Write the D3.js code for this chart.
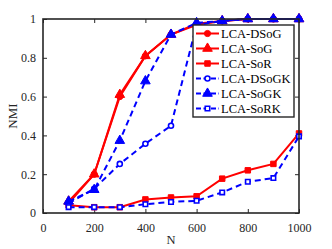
<!DOCTYPE html>
<html>
<head>
<meta charset="utf-8">
<script src="https://cdn.jsdelivr.net/npm/d3@7"></script>
<style>
  body { margin: 0; background: #fff; }
  text { font-family: "Liberation Serif", "Times New Roman", serif; fill: #262626; }
</style>
</head>
<body>
<div id="chart"></div>
<script>
// data
var nValues = [100, 200, 300, 400, 500, 600, 700, 800, 900, 1000];
var dsog   = [0.05, 0.20, 0.60, 0.81, 0.92, 0.97, 0.99, 1.00, 1.00, 1.00];
var sog    = [0.06, 0.20, 0.61, 0.81, 0.92, 0.975, 0.99, 1.00, 1.00, 1.00];
var sor    = [0.04, 0.03, 0.03, 0.07, 0.08, 0.086, 0.177, 0.22, 0.253, 0.41];
var dsogk  = [0.05, 0.125, 0.253, 0.357, 0.45, 0.97, 0.99, 1.00, 1.00, 1.00];
var sogk   = [0.06, 0.12, 0.373, 0.68, 0.92, 0.98, 0.99, 1.00, 1.00, 1.00];
var sork   = [0.03, 0.03, 0.03, 0.045, 0.057, 0.063, 0.106, 0.161, 0.18, 0.395];
var seriesNames = ["LCA-DSoG", "LCA-SoG", "LCA-SoR", "LCA-DSoGK", "LCA-SoGK", "LCA-SoRK"];
var xTicks = [0, 200, 400, 600, 800, 1000];
var yTicks = [0, 0.2, 0.4, 0.6, 0.8, 1];

var svgWidth = 332, svgHeight = 249;
var margin = { top: 19, right: 33, bottom: 36, left: 43 };
var width = svgWidth - margin.left - margin.right;
var height = svgHeight - margin.top - margin.bottom;

var svg = d3.select("#chart").append("svg")
  .attr("width", svgWidth)
  .attr("height", svgHeight);

var g = svg.append("g")
  .attr("transform", `translate(${margin.left},${margin.top})`);

var x = d3.scaleLinear().domain([0, 1000]).range([0, width]);
var y = d3.scaleLinear().domain([0, 1]).range([height, 0]);

var axisColor = "#262626";

// axes with inward ticks, box
function styleAxis(sel) {
  sel.select(".domain").remove();
  sel.selectAll(".tick line").attr("stroke", axisColor).attr("stroke-width", 1);
  sel.selectAll("text").style("font-size", "12px");
}

g.append("g")
  .attr("transform", `translate(0,${height})`)
  .call(d3.axisBottom(x).tickValues(xTicks).tickSize(-4).tickPadding(10).tickFormat(d3.format("d")))
  .call(styleAxis);

g.append("g")
  .call(d3.axisTop(x).tickValues(xTicks).tickSize(-4).tickFormat(""))
  .call(styleAxis);

g.append("g")
  .call(d3.axisLeft(y).tickValues(yTicks).tickSize(-4).tickPadding(7).tickFormat(d3.format("")))
  .call(styleAxis);

g.append("g")
  .attr("transform", `translate(${width},0)`)
  .call(d3.axisRight(y).tickValues(yTicks).tickSize(-4).tickFormat(""))
  .call(styleAxis);

var series = [
  { name: seriesNames[0], values: dsog,  color: "#ff0000", dash: null,  marker: "circle",   fill: true },
  { name: seriesNames[1], values: sog,   color: "#ff0000", dash: null,  marker: "triangle", fill: true },
  { name: seriesNames[2], values: sor,   color: "#ff0000", dash: null,  marker: "square",   fill: true },
  { name: seriesNames[3], values: dsogk, color: "#0000ff", dash: "6,4", marker: "circle",   fill: false },
  { name: seriesNames[4], values: sogk,  color: "#0000ff", dash: "6,4", marker: "triangle", fill: true },
  { name: seriesNames[5], values: sork,  color: "#0000ff", dash: "6,4", marker: "square",   fill: false }
];

var symbolType = { circle: d3.symbolCircle, triangle: d3.symbolTriangle, square: d3.symbolSquare };
var symbolSize = { circle: 30, triangle: 40, square: 30 };

var line = d3.line()
  .x((d, i) => x(nValues[i]))
  .y(d => y(d));

series.forEach(function(s) {
  g.append("path")
    .datum(s.values)
    .attr("fill", "none")
    .attr("stroke", s.color)
    .attr("stroke-width", 2)
    .attr("stroke-dasharray", s.dash)
    .attr("d", line);

  g.selectAll(null)
    .data(s.values)
    .enter()
    .append("path")
    .attr("transform", (d, i) => `translate(${x(nValues[i])},${y(d)})`)
    .attr("d", d3.symbol().type(symbolType[s.marker]).size(s.fill ? symbolSize[s.marker] : 20))
    .attr("fill", s.fill ? s.color : "#fff")
    .attr("stroke", s.color)
    .attr("stroke-width", s.fill ? 1 : 1.6);
});

// frame
g.append("rect")
  .attr("width", width)
  .attr("height", height)
  .attr("fill", "none")
  .attr("stroke", axisColor)
  .attr("stroke-width", 1.6);

// legend
var legend = svg.append("g").attr("transform", "translate(193,25)");
legend.append("rect")
  .attr("width", 101)
  .attr("height", 92)
  .attr("fill", "#fff")
  .attr("stroke", axisColor)
  .attr("stroke-width", 1.4);

series.forEach(function(s, i) {
  var row = legend.append("g").attr("transform", `translate(0,${8.5 + i * 15})`);
  row.append("line")
    .attr("x1", 3).attr("x2", 26)
    .attr("stroke", s.color)
    .attr("stroke-width", 2)
    .attr("stroke-dasharray", s.dash ? "5,2.5" : null);
  row.append("path")
    .attr("transform", "translate(14.5,0)")
    .attr("d", d3.symbol().type(symbolType[s.marker]).size(s.fill ? symbolSize[s.marker] : 20))
    .attr("fill", s.fill ? s.color : "#fff")
    .attr("stroke", s.color)
    .attr("stroke-width", s.fill ? 1 : 1.6);
  row.append("text")
    .attr("x", 28)
    .attr("dy", "0.35em")
    .style("font-size", "12.5px")
    .style("fill", "#000")
    .text(s.name);
});

// axis labels
svg.append("text")
  .attr("x", margin.left + width / 2)
  .attr("y", 244)
  .attr("text-anchor", "middle")
  .style("font-size", "12.5px")
  .text("N");

svg.append("text")
  .attr("transform", `translate(16.5,${margin.top + height / 2}) rotate(-90)`)
  .attr("text-anchor", "middle")
  .style("font-size", "13px")
  .text("NMI");
</script>
</body>
</html>
